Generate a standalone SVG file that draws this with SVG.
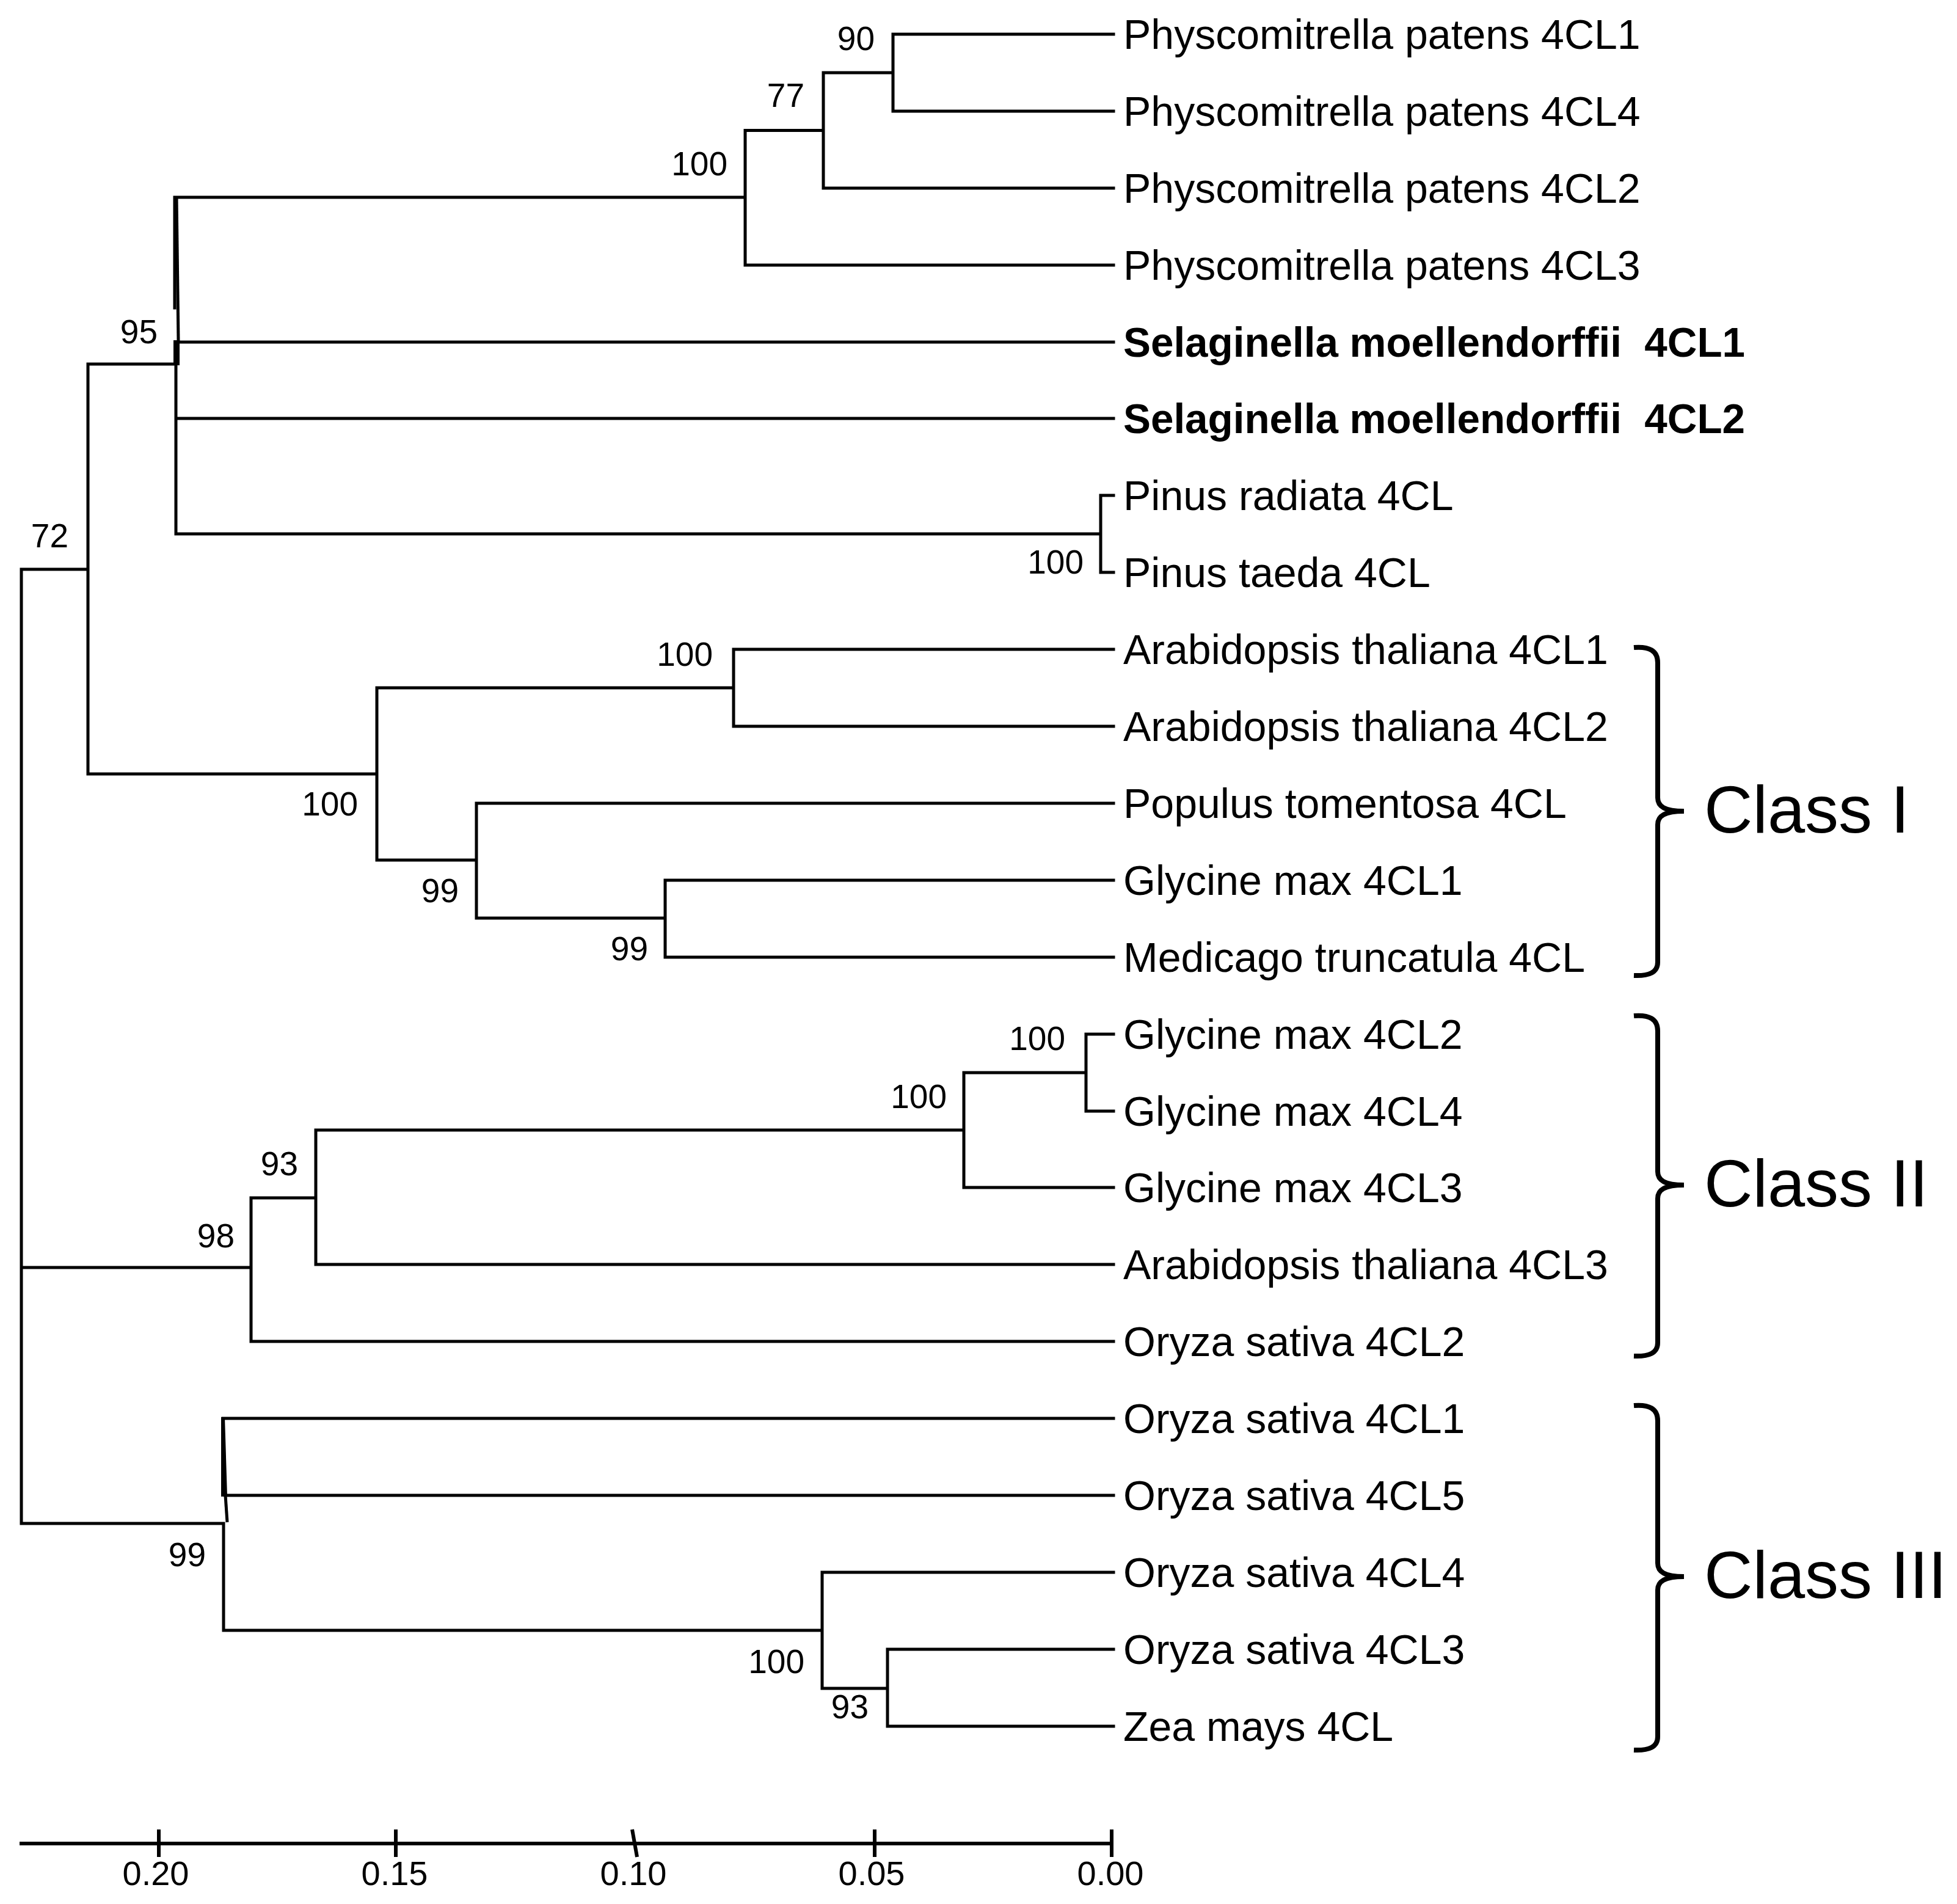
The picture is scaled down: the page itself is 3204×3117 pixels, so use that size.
<svg xmlns="http://www.w3.org/2000/svg" width="3204" height="3117" viewBox="0 0 3204 3117">
<style>
.br{fill:none;stroke:#000;stroke-width:5;stroke-linecap:square;stroke-linejoin:miter}
.ax{fill:none;stroke:#000;stroke-width:6}
.brace{fill:none;stroke:#000;stroke-width:8;stroke-linecap:butt}
.leaf{font-family:"Liberation Sans",Arial,sans-serif;font-size:68px;fill:#000}
.bold{font-weight:bold}
.bs{font-family:"Liberation Sans",Arial,sans-serif;font-size:55px;fill:#000;text-anchor:end}
.tk{font-family:"Liberation Sans",Arial,sans-serif;font-size:56px;fill:#000;text-anchor:middle}
.cls{font-family:"Liberation Sans",Arial,sans-serif;font-size:110px;fill:#000}
</style>
<rect width="3204" height="3117" fill="#fff"/>
<g id="connectors">
<path class="br" d="M35,932 V2494 M35,932 H144 M35,2075 H411 M35,2494 H365
M144,596 V1267 M144,596 H286 M144,1267 H617
M286,323 V504 M286,323 H1220 M293,560 H1823 M289,685 H1823 M288,596 V874 M288,874 H1802
M1220,213.5 V434 M1220,213.5 H1348 M1220,434 H1823
M1348,119 V308 M1348,119 H1462 M1348,308 H1823
M1462,56 V182 M1462,56 H1823 M1462,182 H1823
M1802,811 V937 M1802,811 H1823 M1802,937 H1823
M617,1126 V1408 M617,1126 H1201 M617,1408 H780
M1201,1063 V1189 M1201,1063 H1823 M1201,1189 H1823
M780,1315 V1503 M780,1315 H1823 M780,1503 H1089
M1089,1441 V1567 M1089,1441 H1823 M1089,1567 H1823
M411,1961 V2196 M411,1961 H517 M411,2196 H1823
M517,1850 V2070 M517,1850 H1578 M517,2070 H1823
M1578,1756 V1944 M1578,1756 H1778 M1578,1944 H1823
M1778,1693 V1819 M1778,1693 H1823 M1778,1819 H1823
M365,2322 H1823 M369,2448 H1823 M366,2494 V2669 M366,2669 H1346
M1346,2574 V2764 M1346,2574 H1823 M1346,2764 H1453
M1453,2700 V2826 M1453,2700 H1823 M1453,2826 H1823"/>
<line x1="289" y1="323" x2="292" y2="558" stroke="#000" stroke-width="5"/>
<rect x="284" y="557" width="10" height="41" fill="#000"/>
<polygon points="362,2320 368,2320 372,2450 362,2450" fill="#000"/>
<line x1="369" y1="2448" x2="372" y2="2492" stroke="#000" stroke-width="5"/>
</g>
<g id="bootstrap">
<text class="bs" x="1432" y="82">90</text>
<text class="bs" x="1317" y="175">77</text>
<text class="bs" x="1191" y="287">100</text>
<text class="bs" x="258" y="562">95</text>
<text class="bs" x="112" y="896">72</text>
<text class="bs" x="1774" y="939">100</text>
<text class="bs" x="1167" y="1090">100</text>
<text class="bs" x="586" y="1335">100</text>
<text class="bs" x="751" y="1477">99</text>
<text class="bs" x="1061" y="1572">99</text>
<text class="bs" x="1744" y="1719">100</text>
<text class="bs" x="1550" y="1814">100</text>
<text class="bs" x="488" y="1924">93</text>
<text class="bs" x="384" y="2042">98</text>
<text class="bs" x="337" y="2564">99</text>
<text class="bs" x="1317" y="2739">100</text>
<text class="bs" x="1422" y="2813">93</text>
</g>
<g id="leaf-pp4cl1"><text class="leaf" x="1839" y="80">Physcomitrella patens 4CL1</text></g>
<g id="leaf-pp4cl4"><text class="leaf" x="1839" y="206">Physcomitrella patens 4CL4</text></g>
<g id="leaf-pp4cl2"><text class="leaf" x="1839" y="332">Physcomitrella patens 4CL2</text></g>
<g id="leaf-pp4cl3"><text class="leaf" x="1839" y="458">Physcomitrella patens 4CL3</text></g>
<g id="leaf-sm4cl1"><text class="leaf bold" x="1839" y="584" textLength="1018" lengthAdjust="spacingAndGlyphs" xml:space="preserve">Selaginella moellendorffii  4CL1</text></g>
<g id="leaf-sm4cl2"><text class="leaf bold" x="1839" y="709" textLength="1018" lengthAdjust="spacingAndGlyphs" xml:space="preserve">Selaginella moellendorffii  4CL2</text></g>
<g id="leaf-pr4cl"><text class="leaf" x="1839" y="835">Pinus radiata 4CL</text></g>
<g id="leaf-pt4cl"><text class="leaf" x="1839" y="961">Pinus taeda 4CL</text></g>
<g id="leaf-at4cl1"><text class="leaf" x="1839" y="1087">Arabidopsis thaliana 4CL1</text></g>
<g id="leaf-at4cl2"><text class="leaf" x="1839" y="1213">Arabidopsis thaliana 4CL2</text></g>
<g id="leaf-ptom4cl"><text class="leaf" x="1839" y="1339">Populus tomentosa 4CL</text></g>
<g id="leaf-gm4cl1"><text class="leaf" x="1839" y="1465">Glycine max 4CL1</text></g>
<g id="leaf-mt4cl"><text class="leaf" x="1839" y="1591">Medicago truncatula 4CL</text></g>
<g id="leaf-gm4cl2"><text class="leaf" x="1839" y="1717">Glycine max 4CL2</text></g>
<g id="leaf-gm4cl4"><text class="leaf" x="1839" y="1843">Glycine max 4CL4</text></g>
<g id="leaf-gm4cl3"><text class="leaf" x="1839" y="1968">Glycine max 4CL3</text></g>
<g id="leaf-at4cl3"><text class="leaf" x="1839" y="2094">Arabidopsis thaliana 4CL3</text></g>
<g id="leaf-os4cl2"><text class="leaf" x="1839" y="2220">Oryza sativa 4CL2</text></g>
<g id="leaf-os4cl1"><text class="leaf" x="1839" y="2346">Oryza sativa 4CL1</text></g>
<g id="leaf-os4cl5"><text class="leaf" x="1839" y="2472">Oryza sativa 4CL5</text></g>
<g id="leaf-os4cl4"><text class="leaf" x="1839" y="2598">Oryza sativa 4CL4</text></g>
<g id="leaf-os4cl3"><text class="leaf" x="1839" y="2724">Oryza sativa 4CL3</text></g>
<g id="leaf-zm4cl"><text class="leaf" x="1839" y="2850">Zea mays 4CL</text></g>
<g id="class1">
<path class="brace" d="M2675,1060 C2700,1058 2714,1065 2714,1085 L2714,1306 C2714,1320 2725,1328 2757,1328 C2725,1328 2714,1336 2714,1350 L2714,1575 C2714,1592 2700,1598 2675,1597"/>
<text class="cls" x="2790" y="1363">Class I</text>
</g>
<g id="class2">
<path class="brace" d="M2675,1663 C2700,1661 2714,1668 2714,1688 L2714,1918 C2714,1932 2725,1940 2757,1940 C2725,1940 2714,1948 2714,1962 L2714,2198 C2714,2215 2700,2221 2675,2220"/>
<text class="cls" x="2790" y="1975">Class II</text>
</g>
<g id="class3">
<path class="brace" d="M2675,2301 C2700,2299 2714,2306 2714,2326 L2714,2559 C2714,2573 2725,2581 2757,2581 C2725,2581 2714,2589 2714,2603 L2714,2843 C2714,2860 2700,2866 2675,2865"/>
<text class="cls" x="2790" y="2616">Class III</text>
</g>
<g id="scale-axis">
<line class="ax" x1="32" y1="3018" x2="1823" y2="3018"/>
<line class="ax" x1="260" y1="2995" x2="260" y2="3040"/>
<line class="ax" x1="648" y1="2995" x2="648" y2="3040"/>
<line class="ax" x1="1035" y1="2995" x2="1043" y2="3040"/>
<line class="ax" x1="1432" y1="2995" x2="1432" y2="3040"/>
<line class="ax" x1="1820" y1="2995" x2="1820" y2="3040"/>
<text class="tk" x="255" y="3086">0.20</text>
<text class="tk" x="646" y="3086">0.15</text>
<text class="tk" x="1037" y="3086">0.10</text>
<text class="tk" x="1427" y="3086">0.05</text>
<text class="tk" x="1818" y="3086">0.00</text>
</g>
</svg>
